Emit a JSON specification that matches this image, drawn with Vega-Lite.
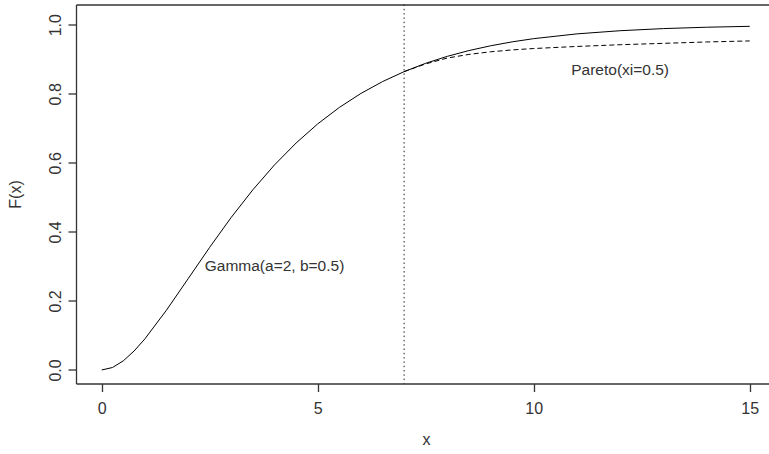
{
  "$schema": "https://vega.github.io/schema/vega-lite/v6.json",
  "width": 693,
  "height": 379,
  "autosize": {"type": "none"},
  "padding": {"left": 76, "top": 4.5, "right": 0, "bottom": 70.5},
  "background": "white",
  "config": {
    "view": {"stroke": null},
    "font": "Liberation Sans",
    "axis": {
      "grid": false,
      "domainColor": "#333",
      "domainWidth": 1.3,
      "tickColor": "#333",
      "tickWidth": 1.3,
      "tickSize": 8,
      "labelFont": "Liberation Sans",
      "labelFontSize": 16,
      "labelColor": "#333",
      "titleFont": "Liberation Sans",
      "titleFontSize": 16,
      "titleFontWeight": "normal",
      "titleColor": "#333"
    }
  },
  "datasets": {
    "gamma": [
      {"x": 0, "F": 0},
      {"x": 0.25, "F": 0.0072},
      {"x": 0.5, "F": 0.0265},
      {"x": 0.75, "F": 0.055},
      {"x": 1, "F": 0.0902},
      {"x": 1.5, "F": 0.1734},
      {"x": 2, "F": 0.2642},
      {"x": 2.5, "F": 0.3554},
      {"x": 3, "F": 0.4422},
      {"x": 3.5, "F": 0.5221},
      {"x": 4, "F": 0.594},
      {"x": 4.5, "F": 0.6574},
      {"x": 5, "F": 0.7127},
      {"x": 5.5, "F": 0.7603},
      {"x": 6, "F": 0.8009},
      {"x": 6.5, "F": 0.8352},
      {"x": 7, "F": 0.8641},
      {"x": 7.5, "F": 0.8883},
      {"x": 8, "F": 0.9084},
      {"x": 8.5, "F": 0.9251},
      {"x": 9, "F": 0.9389},
      {"x": 9.5, "F": 0.9503},
      {"x": 10, "F": 0.9596},
      {"x": 11, "F": 0.9734},
      {"x": 12, "F": 0.9826},
      {"x": 13, "F": 0.9887},
      {"x": 14, "F": 0.9927},
      {"x": 15, "F": 0.9953}
    ],
    "pareto": [
      {"x": 7, "F": 0.8641},
      {"x": 7.5, "F": 0.8865},
      {"x": 8, "F": 0.9035},
      {"x": 8.5, "F": 0.914},
      {"x": 9, "F": 0.9215},
      {"x": 9.5, "F": 0.927},
      {"x": 10, "F": 0.931},
      {"x": 11, "F": 0.937},
      {"x": 12, "F": 0.942},
      {"x": 13, "F": 0.946},
      {"x": 14, "F": 0.95},
      {"x": 15, "F": 0.953}
    ],
    "threshold": [{"x": 7}],
    "labels": [
      {"x": 4, "F": 0.3, "label": "Gamma(a=2, b=0.5)"},
      {"x": 12, "F": 0.87, "label": "Pareto(xi=0.5)"}
    ]
  },
  "layer": [
    {
      "data": {"name": "gamma"},
      "mark": {"type": "line", "color": "#000", "strokeWidth": 1},
      "encoding": {
        "x": {
          "field": "x", "type": "quantitative",
          "scale": {"domain": [-0.595, 15.446], "nice": false, "zero": false},
          "axis": {"orient": "bottom", "values": [0, 5, 10, 15], "title": "x",
                   "labelPadding": 22, "labelBaseline": "alphabetic", "labelFlush": false,
                   "titleX": 350, "titleY": 61, "titleBaseline": "alphabetic", "titleAnchor": null}
        },
        "y": {
          "field": "F", "type": "quantitative",
          "scale": {"domain": [-0.0391, 1.0585], "nice": false, "zero": false},
          "axis": {"orient": "left", "values": [0, 0.2, 0.4, 0.6, 0.8, 1.0], "format": ".1f",
                   "title": "F(x)", "labelAngle": -90, "labelAlign": "center",
                   "labelBaseline": "alphabetic", "labelPadding": 8, "labelFlush": false,
                   "titleX": -56, "titleY": 189.5, "titleAngle": -90, "titleAlign": "center",
                   "titleBaseline": "alphabetic"}
        }
      }
    },
    {
      "data": {"name": "pareto"},
      "mark": {"type": "line", "color": "#000", "strokeWidth": 1, "strokeDash": [5, 3]},
      "encoding": {
        "x": {"field": "x", "type": "quantitative", "axis": null},
        "y": {"field": "F", "type": "quantitative"}
      }
    },
    {
      "data": {"name": "threshold"},
      "mark": {"type": "rule", "color": "#222", "strokeWidth": 1, "strokeDash": [1.5, 2.8]},
      "encoding": {
        "x": {"field": "x", "type": "quantitative",
              "axis": {"orient": "top", "labels": false, "ticks": false, "title": null, "domain": true}}
      }
    },
    {
      "data": {"name": "labels"},
      "mark": {"type": "text", "font": "Liberation Sans", "fontSize": 15.5, "color": "#333", "align": "center", "baseline": "middle"},
      "encoding": {
        "x": {"field": "x", "type": "quantitative", "axis": null},
        "y": {"field": "F", "type": "quantitative"},
        "text": {"field": "label"}
      }
    }
  ],
  "resolve": {"axis": {"x": "independent"}}
}
